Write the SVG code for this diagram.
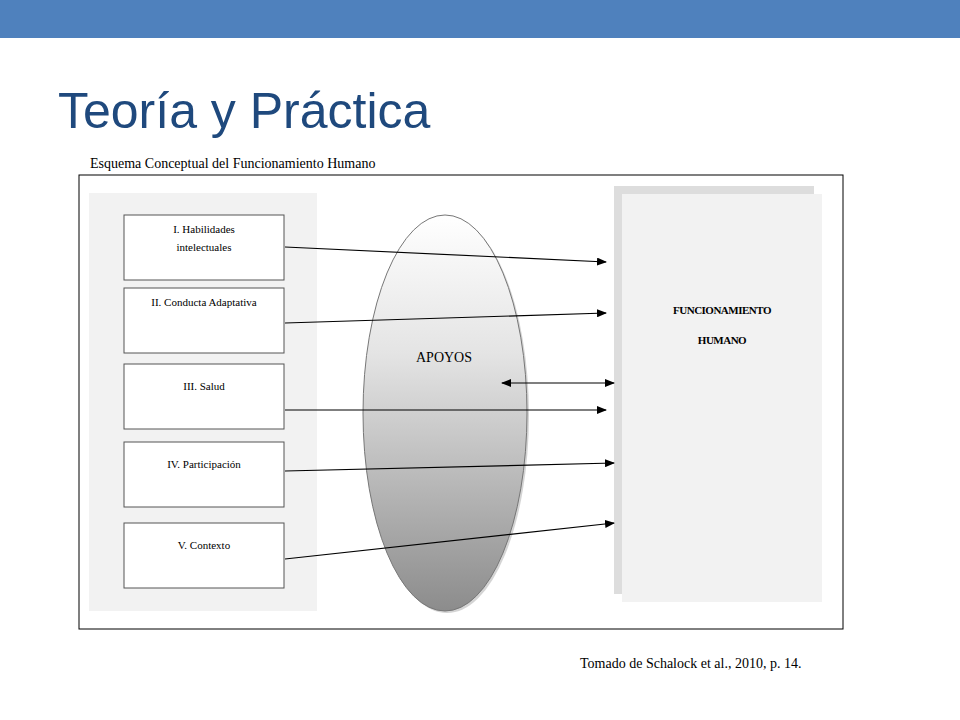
<svg xmlns="http://www.w3.org/2000/svg" width="960" height="720" viewBox="0 0 960 720">
<style>
.t{font-family:"Liberation Serif",serif;fill:#000}
.box{fill:#fff;stroke:#555;stroke-width:1}
.c{stroke:#000;stroke-width:1.2;fill:none;marker-end:url(#ah)}
</style>
<defs>
<marker id="ah" markerWidth="10" markerHeight="8" refX="9" refY="4" orient="auto" markerUnits="userSpaceOnUse"><path d="M0,0 L10,4 L0,8 z" fill="#000"/></marker>
<marker id="as" markerWidth="10" markerHeight="8" refX="1" refY="4" orient="auto" markerUnits="userSpaceOnUse"><path d="M10,0 L0,4 L10,8 z" fill="#000"/></marker>
<linearGradient id="g" x1="0" y1="0" x2="0" y2="1"><stop offset="0" stop-color="#fff"/><stop offset="0.35" stop-color="#e4e4e4"/><stop offset="1" stop-color="#8c8c8c"/></linearGradient>
</defs>
<rect width="960" height="720" fill="#fff"/>
<rect x="0" y="0" width="960" height="38" fill="#4f81bd"/>
<text x="58" y="128" font-family="'Liberation Sans',Arial,sans-serif" font-size="50" fill="#1f497d">Teoría y Práctica</text>
<text class="t" x="90" y="168" font-size="14">Esquema Conceptual del Funcionamiento Humano</text>
<rect x="79" y="175" width="764" height="454" fill="#fff" stroke="#000"/>
<rect x="89" y="193" width="228" height="418" fill="#f2f2f2"/>
<g id="apoyos"><ellipse cx="447" cy="415" rx="82" ry="198" fill="#aaa" opacity="0.5"/><ellipse cx="445" cy="413" rx="82" ry="198" fill="url(#g)" stroke="#777"/><text class="t" x="444" y="362" font-size="14" text-anchor="middle">APOYOS</text></g>
<g id="funcionamiento"><rect x="614" y="186" width="200" height="408" fill="#ddd"/><rect x="622" y="194" width="200" height="408" fill="#f2f2f2"/><text class="t" x="722" y="314" font-size="11" font-weight="bold" text-anchor="middle" letter-spacing="-0.5">FUNCIONAMIENTO</text><text class="t" x="722" y="344" font-size="11" font-weight="bold" text-anchor="middle" letter-spacing="-0.5">HUMANO</text></g>
<g id="n1"><rect class="box" x="124" y="215" width="160" height="65"/><text class="t" x="204" y="233" font-size="11" text-anchor="middle">I. Habilidades</text><text class="t" x="204" y="251" font-size="11" text-anchor="middle">intelectuales</text></g>
<g id="n2"><rect class="box" x="124" y="288" width="160" height="65"/><text class="t" x="204" y="306" font-size="11" text-anchor="middle">II. Conducta Adaptativa</text></g>
<g id="n3"><rect class="box" x="124" y="364" width="160" height="65"/><text class="t" x="204" y="390" font-size="11" text-anchor="middle">III. Salud</text></g>
<g id="n4"><rect class="box" x="124" y="442" width="160" height="65"/><text class="t" x="204" y="468" font-size="11" text-anchor="middle">IV. Participación</text></g>
<g id="n5"><rect class="box" x="124" y="523" width="160" height="65"/><text class="t" x="204" y="549" font-size="11" text-anchor="middle">V. Contexto</text></g>
<g id="connectors">
<path class="c" d="M285,247 L606,262"/>
<path class="c" d="M285,323 L606,313"/>
<path class="c" d="M502,383 L614,383" marker-start="url(#as)"/>
<path class="c" d="M285,410 L606,410"/>
<path class="c" d="M285,471 L614,463"/>
<path class="c" d="M285,559 L614,523"/>
</g>
<text class="t" x="580" y="668" font-size="14">Tomado de Schalock et al., 2010, p. 14.</text>
</svg>
